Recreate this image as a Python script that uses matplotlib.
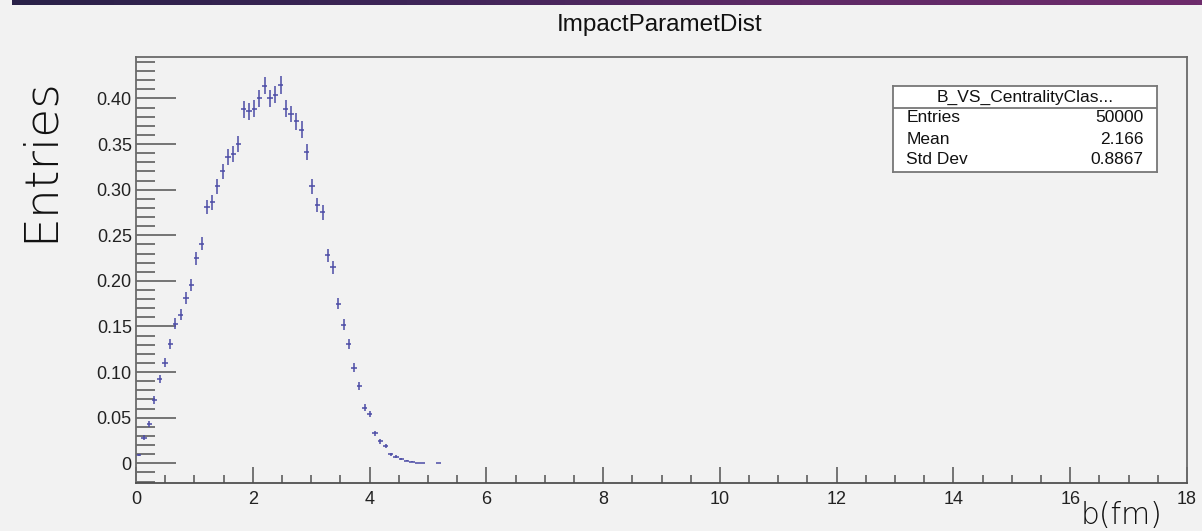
import numpy as np
import matplotlib
matplotlib.use("Agg")
import matplotlib.pyplot as plt
from matplotlib.ticker import MultipleLocator, FixedLocator
from matplotlib.colors import LinearSegmentedColormap

# ---------------- data ----------------
title = "ImpactParametDist"
x_label = "b(fm)"
y_label = "Entries"
stat_name = "B_VS_CentralityClas..."
stat_rows = ["Entries", "Mean", "Std Dev"]
stat_vals = ["50000", "2.166", "0.8867"]
n_entries = 50000
n_bins = 200
x_range = (0.0, 18.0)
# normalised bin contents for bins 0..57 (remaining bins empty)
values = [0.0092, 0.0282, 0.0432, 0.0695, 0.0923, 0.110, 0.131, 0.153, 0.163, 0.181,
          0.195, 0.225, 0.241, 0.281, 0.286, 0.304, 0.320, 0.336, 0.339, 0.350,
          0.388, 0.386, 0.389, 0.400, 0.414, 0.400, 0.404, 0.415, 0.389, 0.383,
          0.375, 0.366, 0.341, 0.304, 0.283, 0.275, 0.228, 0.215, 0.175, 0.152,
          0.131, 0.105, 0.085, 0.061, 0.054, 0.033, 0.024, 0.019, 0.0099, 0.0073,
          0.0048, 0.0029, 0.0015, 0.0004, 0.0002, 0.0, 0.0, 0.0002]
x_ticks = [0, 2, 4, 6, 8, 10, 12, 14, 16, 18]
y_ticks = [0, 0.05, 0.10, 0.15, 0.20, 0.25, 0.30, 0.35, 0.40]
y_tick_labels = ["0", "0.05", "0.10", "0.15", "0.20", "0.25", "0.30", "0.35", "0.40"]

# ---------------- figure ----------------
W, H = 1202, 531
bg = "#f2f2f2"
fig = plt.figure(figsize=(W / 100, H / 100), dpi=100, facecolor=bg)

def frac(l, t, r, b):
    return [l / W, 1 - b / H, (r - l) / W, (b - t) / H]

# top gradient bar
bar_ax = fig.add_axes(frac(12, 0, W, 5))
grad = np.linspace(0, 1, 256).reshape(1, -1)
cmap = LinearSegmentedColormap.from_list("bar", ["#2a2148", "#3e2558", "#5f2a66", "#6e2c6c"])
bar_ax.imshow(grad, aspect="auto", cmap=cmap, extent=(0, 1, 0, 1))
bar_ax.axis("off")

ax = fig.add_axes(frac(136, 57, 1187, 483))
ax.set_facecolor(bg)

w = (x_range[1] - x_range[0]) / n_bins
vals = np.array(values)
centers = x_range[0] + w * (np.arange(len(vals)) + 0.5)
mask = vals > 0
errs = np.sqrt(vals / (n_entries * w))
ax.errorbar(centers[mask], vals[mask], xerr=w / 2, yerr=errs[mask], fmt="none",
            ecolor="#4b4ba6", elinewidth=1.1, capsize=0)

ax.set_xlim(*x_range)
ax.set_ylim(-0.0216, 0.4455)

frame_c = "#6a6a6a"
for s in ax.spines.values():
    s.set_color(frame_c)
    s.set_linewidth(1.3)
ax.spines["bottom"].set_color("#505050")

ax.xaxis.set_major_locator(FixedLocator(x_ticks))
ax.xaxis.set_minor_locator(MultipleLocator(0.5))
ax.yaxis.set_major_locator(FixedLocator(y_ticks))
ax.yaxis.set_minor_locator(MultipleLocator(0.01))
ax.set_yticklabels(y_tick_labels)
ax.set_xticklabels([str(t) for t in x_ticks])

ax.tick_params(axis="x", which="major", direction="in", length=11.5, width=1.3,
               color=frame_c, pad=6, labelsize=13, labelcolor="#222222")
ax.tick_params(axis="x", which="minor", direction="in", length=6, width=1.3, color=frame_c)
ax.tick_params(axis="y", which="major", direction="in", length=28.5, width=1.3,
               color=frame_c, pad=3, labelsize=13, labelcolor="#222222")
ax.tick_params(axis="y", which="minor", direction="in", length=14, width=1.3, color=frame_c)
for lab in ax.get_xticklabels() + ax.get_yticklabels():
    lab.set_fontfamily("Liberation Sans")

# title
fig.text(660 / W, 1 - 25 / H, title, ha="center", va="center",
         fontsize=17.5, family="Liberation Sans", color="#111111")

# axis titles
fig.text(40 / W, 1 - 160 / H, y_label, rotation=90, ha="center", va="center",
         fontsize=34, family="DejaVu Sans", fontweight="light", color="#111111")
fig.text(1122 / W, 1 - 515 / H, x_label, ha="center", va="center",
         fontsize=21.5, family="DejaVu Sans", fontweight="light", color="#111111")

# stat box
sax = fig.add_axes(frac(893, 86, 1157, 172))
sax.set_xlim(0, 1)
sax.set_ylim(0, 1)
sax.set_xticks([])
sax.set_yticks([])
sax.set_facecolor("white")
for s in sax.spines.values():
    s.set_color("#777777")
    s.set_linewidth(1.3)
box_h = 172 - 86
sep = 1 - (107.5 - 86) / box_h
sax.axhline(sep, color="#777777", lw=1.3)
sax.text(0.5, 1 - (97 - 86) / box_h, stat_name, ha="center", va="center",
         fontsize=12.5, family="Liberation Sans", color="#111111")
row_y = [118, 139, 160]
for name, val, yy in zip(stat_rows, stat_vals, row_y):
    yf = 1 - (yy - 86) / box_h
    sax.text((906.5 - 893) / 264, yf, name, ha="left", va="center",
             fontsize=12.5, family="Liberation Sans", color="#111111")
    sax.text((1143.5 - 893) / 264, yf, val, ha="right", va="center",
             fontsize=12.5, family="Liberation Sans", color="#111111")

fig.savefig("out.png", dpi=100, facecolor=bg)
